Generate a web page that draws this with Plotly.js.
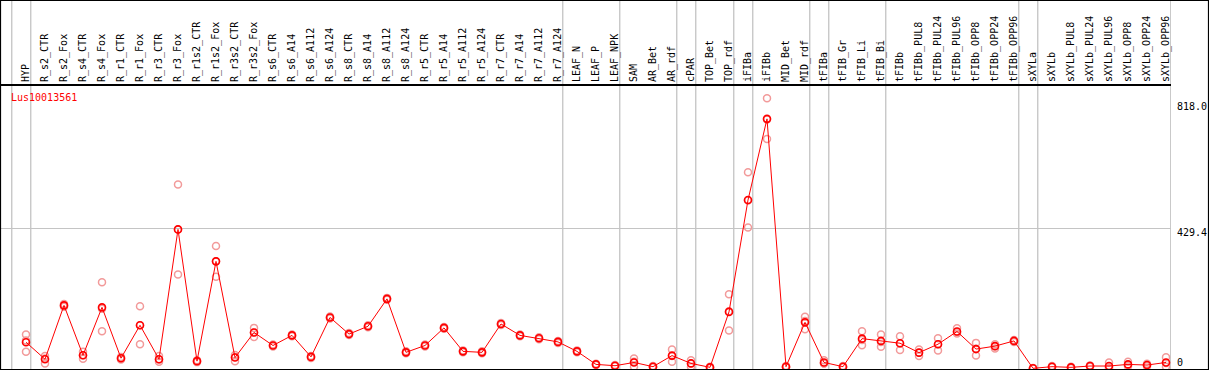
<!DOCTYPE html>
<html>
<head>
<meta charset="utf-8">
<script src="https://cdn.plot.ly/plotly-3.0.1.min.js"></script>
<style>html,body{margin:0;padding:0;background:#fff;}#chart{width:1209px;height:370px;}</style>
</head>
<body>
<div id="chart"></div>
<script>
const geneName = 'Lus10013561';

const categories = ['HYP','R_s2_CTR','R_s2_Fox','R_s4_CTR','R_s4_Fox','R_r1_CTR','R_r1_Fox','R_r3_CTR','R_r3_Fox',
  'R_r1s2_CTR','R_r1s2_Fox','R_r3s2_CTR','R_r3s2_Fox','R_s6_CTR','R_s6_A14','R_s6_A112','R_s6_A124',
  'R_s8_CTR','R_s8_A14','R_s8_A112','R_s8_A124','R_r5_CTR','R_r5_A14','R_r5_A112','R_r5_A124',
  'R_r7_CTR','R_r7_A14','R_r7_A112','R_r7_A124','LEAF_N','LEAF_P','LEAF_NPK','SAM','AR_Bet','AR_rdf',
  'cPAR','TOP_Bet','TOP_rdf','iFIBa','iFIBb','MID_Bet','MID_rdf','tFIBa','tFIB_Gr','tFIB_Li','tFIB_Bi',
  'tFIBb','tFIBb_PUL8','tFIBb_PUL24','tFIBb_PUL96','tFIBb_OPP8','tFIBb_OPP24','tFIBb_OPP96',
  'sXYLa','sXYLb','sXYLb_PUL8','sXYLb_PUL24','sXYLb_PUL96','sXYLb_OPP8','sXYLb_OPP24','sXYLb_OPP96'];

// last category of each group (a separator is drawn after it)
const groupEnds = ['HYP','R_r7_A124','LEAF_NPK','AR_rdf','cPAR','TOP_rdf','iFIBa','MID_rdf','tFIBa',
  'tFIB_Bi','tFIBb_OPP96','sXYLa','sXYLb_OPP96'];

const meanValues = [80,28,193,40,187,31,132,28,426,22,328,33,110,70,101,35,156,105,129,213,49,70,124,52,49,
  136,101,92,81,52,12,8,18,5,39,15,3,173,516,765,5,141,18,5,91,84,77,48,74,113,59,68,84,0,5,3,7,7,12,10,18];

const replicate1 = [104,38,197,51,264,35,190,38,564,25,375,41,124,73,104,38,159,108,132,216,52,73,127,55,52,
  139,104,95,84,55,14,10,30,7,58,25,5,227,601,828,7,158,25,7,114,104,98,58,92,123,78,74,87,1,7,5,9,18,20,14,34];
const replicate2 = [85,30,193,40,183,30,132,27,426,22,328,35,110,70,101,35,156,105,129,213,49,70,124,52,49,
  136,101,92,81,52,12,8,20,5,38,15,3,175,515,763,5,145,15,5,87,81,76,48,74,111,60,68,84,0,5,3,7,3,10,10,16];
const replicate3 = [51,15,189,29,114,27,74,20,288,19,281,22,96,67,98,32,153,102,126,210,46,67,121,49,46,
  133,98,89,78,49,10,6,5,3,20,5,1,116,432,703,3,120,15,3,71,66,56,38,55,107,39,61,81,0,3,1,5,0,6,6,5];

const yTickValues = [0, 429.4, 818];
const yTickLabels = ['0', '429.4', '818.0'];

// ---- layout geometry ----
const W = 1209, H = 370;
const M = {l: 1, r: 38, t: 86, b: 1};
const PW = W - M.l - M.r, PH = H - M.t - M.b;
const px2paperX = px => (px - M.l) / PW;
const px2paperY = py => (H - M.b - py) / PH;
const yRange = [-2.1, 865.8];
const xRange = [-1.316, 60.263];

const FONT = 'DejaVu Sans Mono, Liberation Mono, monospace';
const paleColor = '#f29a9a';
const mainColor = '#ff0000';

const xs = categories;
const traces = [];
[replicate1, replicate2, replicate3].forEach(rep => {
  traces.push({
    x: xs, y: rep, type: 'scatter', mode: 'markers',
    marker: {symbol: 'circle-open', size: 7, color: paleColor, line: {width: 1.5, color: paleColor}},
    hoverinfo: 'skip', showlegend: false
  });
});
traces.push({
  x: xs, y: meanValues, type: 'scatter', mode: 'lines+markers',
  line: {color: mainColor, width: 1},
  marker: {symbol: 'circle-open', size: 7, color: mainColor, line: {width: 1.6, color: mainColor}},
  showlegend: false
});

const shapes = [];
// group separators (start line and after each group)
const sepPositions = [-1].concat(groupEnds.map(n => categories.indexOf(n)));
sepPositions.forEach(i => {
  shapes.push({type: 'line', xref: 'x', yref: 'paper', x0: i + 0.25, x1: i + 0.25,
    y0: px2paperY(H), y1: px2paperY(0), line: {color: '#c4c4c4', width: 1.3}, layer: 'below'});
});
// outer frame
shapes.push({type: 'rect', xref: 'paper', yref: 'paper',
  x0: px2paperX(0.5), x1: px2paperX(W - 0.5), y0: px2paperY(H - 0.5), y1: px2paperY(0.5),
  line: {color: '#000', width: 1.2}, fillcolor: 'rgba(0,0,0,0)', layer: 'above'});

const tickFont = {family: FONT, size: 10, color: '#000'};
const yCommon = {range: yRange, side: 'right', zeroline: false, showline: false, ticks: '',
  tickfont: tickFont, fixedrange: true, ticklabelstandoff: 5};

const layout = {
  width: W, height: H,
  margin: M,
  paper_bgcolor: '#fff', plot_bgcolor: '#fff',
  showlegend: false,
  font: {family: FONT, size: 10, color: '#000'},
  xaxis: {
    type: 'category', categoryorder: 'array', categoryarray: categories,
    range: xRange, side: 'top', tickangle: -90, ticks: '', showgrid: false, zeroline: false,
    showline: true, mirror: true, linecolor: '#000', linewidth: 2,
    tickfont: tickFont, automargin: false, fixedrange: true
  },
  yaxis: Object.assign({}, yCommon, {
    tickvals: [yTickValues[1]], ticktext: [yTickLabels[1]],
    showgrid: true, gridcolor: '#c4c4c4', gridwidth: 1.3, ticklabelshift: 4
  }),
  yaxis2: Object.assign({}, yCommon, {
    overlaying: 'y', anchor: 'x', tickvals: [yTickValues[2]], ticktext: [yTickLabels[2]],
    showgrid: false, ticklabelshift: 5
  }),
  yaxis3: Object.assign({}, yCommon, {
    overlaying: 'y', anchor: 'x', tickvals: [yTickValues[0]], ticktext: [yTickLabels[0]],
    showgrid: false, ticklabelshift: -6
  }),
  shapes: shapes,
  annotations: [{
    text: geneName, xref: 'paper', yref: 'paper',
    x: px2paperX(9), y: px2paperY(97), xanchor: 'left', yanchor: 'middle',
    showarrow: false, font: {family: FONT, size: 10, color: mainColor}
  }]
};

// invisible traces that activate the overlay axes
traces.push({x: [categories[0]], y: [0], yaxis: 'y2', type: 'scatter', mode: 'markers',
  marker: {opacity: 0}, hoverinfo: 'skip', showlegend: false});
traces.push({x: [categories[0]], y: [0], yaxis: 'y3', type: 'scatter', mode: 'markers',
  marker: {opacity: 0}, hoverinfo: 'skip', showlegend: false});

Plotly.newPlot('chart', traces, layout, {displayModeBar: false, staticPlot: true});
</script>
</body>
</html>
